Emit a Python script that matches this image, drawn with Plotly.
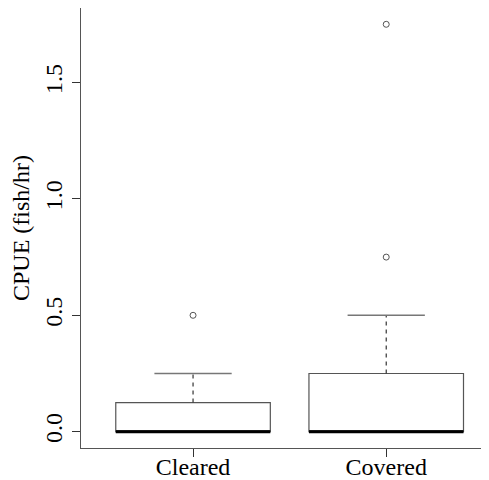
import plotly.graph_objects as go

groups = ["Cleared", "Covered"]
positions = [1, 2]
q1 = [0.0, 0.0]
median = [0.0, 0.0]
q3 = [0.125, 0.25]
whisker_low = [0.0, 0.0]
whisker_high = [0.25, 0.5]
outliers_cleared = [0.5]
outliers_covered = [0.75, 1.75]
outliers = [outliers_cleared, outliers_covered]

y_ticks = [0.0, 0.5, 1.0, 1.5]

BOX_W = 0.8
CAP_W = 0.4
LINE = "#555555"
FONT = "Liberation Serif"

fig = go.Figure()

for i, g in enumerate(groups):
    x = positions[i]
    fig.add_trace(go.Box(
        x=[x], q1=[q1[i]], median=[median[i]], q3=[q3[i]],
        lowerfence=[q1[i]], upperfence=[q3[i]],
        width=BOX_W, whiskerwidth=0,
        fillcolor="white", line=dict(color=LINE, width=1.2),
        boxpoints=False, showlegend=False, hoverinfo="skip", name=g,
    ))
    # median (thick)
    fig.add_trace(go.Scatter(
        x=[x - BOX_W / 2, x + BOX_W / 2], y=[median[i], median[i]],
        mode="lines", line=dict(color="black", width=3),
        showlegend=False, hoverinfo="skip"))
    # upper whisker (dashed)
    fig.add_trace(go.Scatter(
        x=[x, x], y=[q3[i], whisker_high[i]],
        mode="lines", line=dict(color="#333333", width=1.2, dash="4px,4px"),
        showlegend=False, hoverinfo="skip"))
    # lower whisker (dashed)
    fig.add_trace(go.Scatter(
        x=[x, x], y=[whisker_low[i], q1[i]],
        mode="lines", line=dict(color="#333333", width=1.2, dash="4px,4px"),
        showlegend=False, hoverinfo="skip"))
    # caps
    for v in (whisker_high[i],):
        fig.add_trace(go.Scatter(
            x=[x - CAP_W / 2, x + CAP_W / 2], y=[v, v],
            mode="lines", line=dict(color="#777777", width=1.5),
            showlegend=False, hoverinfo="skip"))
    # outliers
    fig.add_trace(go.Scatter(
        x=[x] * len(outliers[i]), y=outliers[i], mode="markers",
        marker=dict(symbol="circle-open", size=6, color="#555555",
                    line=dict(width=1)),
        showlegend=False, hoverinfo="skip"))

fig.update_layout(
    width=481, height=472,
    margin=dict(l=73, r=0, t=0, b=32),
    plot_bgcolor="white", paper_bgcolor="white",
    font=dict(family=FONT, size=24, color="black"),
    xaxis=dict(
        range=[0.42, 2.532], tickvals=positions, ticktext=groups,
        showgrid=False, zeroline=False,
        showline=True, linecolor=LINE, linewidth=1.2, mirror=True,
        ticks="outside", ticklen=8, tickcolor="#333333",
        ticklabelstandoff=-11,
        tickfont=dict(family=FONT, size=24), automargin=False,
    ),
    yaxis=dict(
        range=[-0.07, 1.82], tickvals=y_ticks, tickformat=".1f",
        tickangle=-90, showgrid=False, zeroline=False,
        showline=True, linecolor=LINE, linewidth=1.2, mirror=False,
        ticks="outside", ticklen=8, tickcolor="#333333",
        tickfont=dict(family=FONT, size=24), automargin=False,
        title=dict(text="CPUE (fish/hr)", font=dict(family=FONT, size=24),
                   standoff=8),
    ),
)

fig.write_html("out.html")
